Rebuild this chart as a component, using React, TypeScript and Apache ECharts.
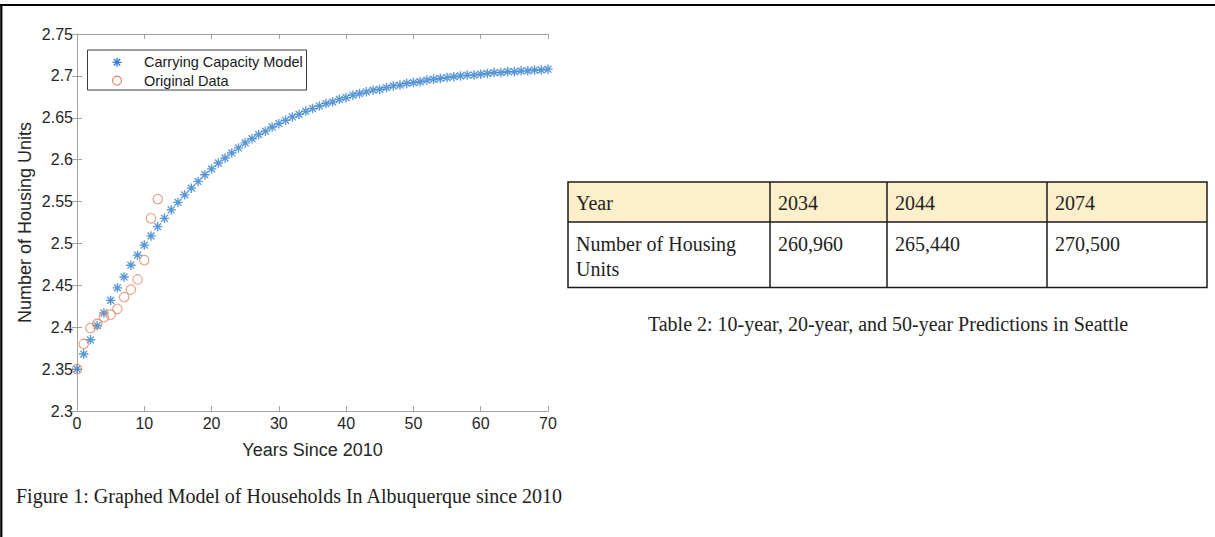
import React, { useEffect, useRef } from "react";
import * as echarts from "echarts";

const modelYears = [
  0, 1, 2, 3, 4, 5, 6, 7, 8, 9, 10, 11, 12, 13, 14, 15, 16, 17, 18, 19, 20, 21, 22, 23, 24, 25, 26, 27, 28, 29, 30,
  31, 32, 33, 34, 35, 36, 37, 38, 39, 40, 41, 42, 43, 44, 45, 46, 47, 48, 49, 50, 51, 52, 53, 54, 55, 56, 57, 58, 59,
  60, 61, 62, 63, 64, 65, 66, 67, 68, 69, 70,
];
const modelValues = [
  2.35, 2.368, 2.385, 2.402, 2.417, 2.432, 2.447, 2.46, 2.474, 2.486, 2.498, 2.509, 2.52, 2.53, 2.54, 2.549, 2.558,
  2.566, 2.574, 2.582, 2.589, 2.596, 2.602, 2.608, 2.614, 2.62, 2.625, 2.63, 2.634, 2.639, 2.643, 2.647, 2.651, 2.654,
  2.658, 2.661, 2.664, 2.667, 2.669, 2.672, 2.674, 2.677, 2.679, 2.681, 2.683, 2.684, 2.686, 2.688, 2.689, 2.691,
  2.692, 2.693, 2.695, 2.696, 2.697, 2.698, 2.699, 2.7, 2.701, 2.701, 2.702, 2.703, 2.704, 2.704, 2.705, 2.705, 2.706,
  2.706, 2.707, 2.707, 2.708,
];
const dataYears = [0, 1, 2, 3, 4, 5, 6, 7, 8, 9, 10, 11, 12];
const dataValues = [2.35, 2.38, 2.399, 2.404, 2.412, 2.415, 2.422, 2.436, 2.445, 2.457, 2.48, 2.53, 2.553];

const legendNames = ["Carrying Capacity Model", "Original Data"];
const tableHeader = ["Year", "2034", "2044", "2074"];
const tableRow = ["Number of Housing\nUnits", "260,960", "265,440", "270,500"];
const tableCaption = "Table 2: 10-year, 20-year, and 50-year Predictions in Seattle";
const figureCaption = "Figure 1: Graphed Model of Households In Albuquerque since 2010";

const BLUE = "#2f7dcc";
const ORANGE = "#de8460";
const AXIS = "#a3a3a3";
const SANS = "'Liberation Sans', Arial, sans-serif";
const SERIF = "'Liberation Serif', 'Times New Roman', serif";
const STAR = "path://M0,-5L0,5M-5,0L5,0M-3.6,-3.6L3.6,3.6M-3.6,3.6L3.6,-3.6";

function starLines(cx: number, cy: number, r: number) {
  const d = r * 0.72;
  const seg = (x1: number, y1: number, x2: number, y2: number) => ({
    type: "line",
    z: 12,
    shape: { x1: cx + x1, y1: cy + y1, x2: cx + x2, y2: cy + y2 },
    style: { stroke: BLUE, lineWidth: 1.3 },
  });
  return [seg(0, -r, 0, r), seg(-r, 0, r, 0), seg(-d, -d, d, d), seg(-d, d, d, -d)];
}

function txt(x: number, y: number, text: string, size: number, family: string, align = "left", color = "#1f1f1f") {
  return {
    type: "text",
    x,
    y,
    z: 12,
    style: {
      text,
      fill: color,
      fontSize: size,
      fontFamily: family,
      align,
      textAlign: align,
      verticalAlign: "middle",
      textVerticalAlign: "middle",
    },
  };
}

export default function App() {
  const ref = useRef<HTMLDivElement>(null);

  useEffect(() => {
    if (!ref.current) return;
    const chart = echarts.init(ref.current, undefined, { renderer: "svg" });

    const gridL = 77;
    const gridT = 34;
    const gridW = 471;
    const gridH = 377;

    const axisCommon = {
      type: "value",
      axisLine: { show: true, lineStyle: { color: AXIS, width: 1 } },
      axisTick: { show: true, inside: true, length: 5, lineStyle: { color: AXIS } },
      splitLine: { show: false },
    };

    const SERIF_SIZE = 20;
    const colX = [568, 770, 887, 1047, 1207];
    const rowY = [182, 222, 287.5];
    const tableGraphics: any[] = [];
    tableGraphics.push({
      type: "rect",
      shape: { x: colX[0], y: rowY[0], width: colX[4] - colX[0], height: rowY[1] - rowY[0] },
      style: { fill: "#fdefc9", stroke: "none" },
    });
    tableGraphics.push({
      type: "rect",
      shape: { x: colX[0], y: rowY[0], width: colX[4] - colX[0], height: rowY[2] - rowY[0] },
      style: { fill: "none", stroke: "#1c1c1c", lineWidth: 1.5 },
    });
    tableGraphics.push({
      type: "line",
      shape: { x1: colX[0], y1: rowY[1], x2: colX[4], y2: rowY[1] },
      style: { stroke: "#1c1c1c", lineWidth: 1.5 },
    });
    for (let i = 1; i < 4; i++) {
      tableGraphics.push({
        type: "line",
        shape: { x1: colX[i], y1: rowY[0], x2: colX[i], y2: rowY[2] },
        style: { stroke: "#1c1c1c", lineWidth: 1.5 },
      });
    }
    tableHeader.forEach((t, i) => {
      tableGraphics.push(txt(colX[i] + 8, 202.5, t, SERIF_SIZE, SERIF, "left", "#222"));
    });
    tableRow.forEach((t, i) => {
      const lines = t.split("\n");
      lines.forEach((ln, j) => {
        tableGraphics.push(txt(colX[i] + 8, 244 + j * 24.5, ln, SERIF_SIZE, SERIF, "left", "#222"));
      });
    });

    const option: any = {
      animation: false,
      backgroundColor: "#ffffff",
      grid: { left: gridL, top: gridT, width: gridW, height: gridH },
      xAxis: [
        {
          ...axisCommon,
          min: 0,
          max: 70,
          interval: 10,
          position: "bottom",
          axisLabel: { fontSize: 16, color: "#262626", fontFamily: SANS, margin: 4 },
          name: "Years Since 2010",
          nameLocation: "middle",
          nameGap: 30,
          nameTextStyle: { fontSize: 18, color: "#262626", fontFamily: SANS },
        },
        {
          ...axisCommon,
          min: 0,
          max: 70,
          interval: 10,
          position: "top",
          axisLabel: { show: false },
        },
      ],
      yAxis: [
        {
          ...axisCommon,
          min: 2.3,
          max: 2.75,
          interval: 0.05,
          position: "left",
          axisLabel: { fontSize: 16, color: "#262626", fontFamily: SANS, margin: 4 },
          name: "Number of Housing Units",
          nameLocation: "middle",
          nameGap: 43,
          nameTextStyle: { fontSize: 18, color: "#262626", fontFamily: SANS },
        },
        {
          ...axisCommon,
          min: 2.3,
          max: 2.75,
          interval: 0.05,
          position: "right",
          axisLabel: { show: false },
        },
      ],
      series: [
        {
          name: legendNames[0],
          type: "scatter",
          xAxisIndex: 0,
          yAxisIndex: 0,
          symbol: STAR,
          symbolSize: 9.5,
          itemStyle: { color: "transparent", borderColor: BLUE, borderWidth: 1.35 },
          data: modelYears.map((x, i) => [x, modelValues[i]]),
          z: 2,
        },
        {
          name: legendNames[1],
          type: "scatter",
          xAxisIndex: 0,
          yAxisIndex: 0,
          symbol: "circle",
          symbolSize: 9.5,
          itemStyle: { color: "transparent", borderColor: ORANGE, borderWidth: 1.1 },
          data: dataYears.map((x, i) => [x, dataValues[i]]),
          z: 3,
        },
      ],
      graphic: [
        { type: "line", shape: { x1: 0, y1: 5, x2: 1215, y2: 5 }, style: { stroke: "#000", lineWidth: 2 } },
        { type: "line", shape: { x1: 1.3, y1: 4, x2: 1.3, y2: 537 }, style: { stroke: "#000", lineWidth: 2.2 } },
        {
          type: "rect",
          z: 10,
          shape: { x: 87.5, y: 50, width: 219, height: 40 },
          style: { fill: "#ffffff", stroke: "#3a3a3a", lineWidth: 1 },
        },
        ...starLines(117, 62.3, 4.5),
        {
          type: "circle",
          z: 12,
          shape: { cx: 117, cy: 80.7, r: 4.5 },
          style: { fill: "none", stroke: ORANGE, lineWidth: 1.1 },
        },
        txt(144, 62.3, legendNames[0], 14.5, SANS, "left", "#1a1a1a"),
        txt(144, 80.7, legendNames[1], 14.5, SANS, "left", "#1a1a1a"),
        ...tableGraphics,
        txt(888, 323.5, tableCaption, SERIF_SIZE, SERIF, "center", "#222"),
        txt(16, 496, figureCaption, SERIF_SIZE, SERIF, "left", "#222"),
      ],
    };

    chart.setOption(option);
    return () => chart.dispose();
  }, []);

  return (
    <div
      ref={ref}
      style={{ position: "absolute", left: 0, top: 0, width: 1215, height: 537, background: "#fff" }}
    />
  );
}
